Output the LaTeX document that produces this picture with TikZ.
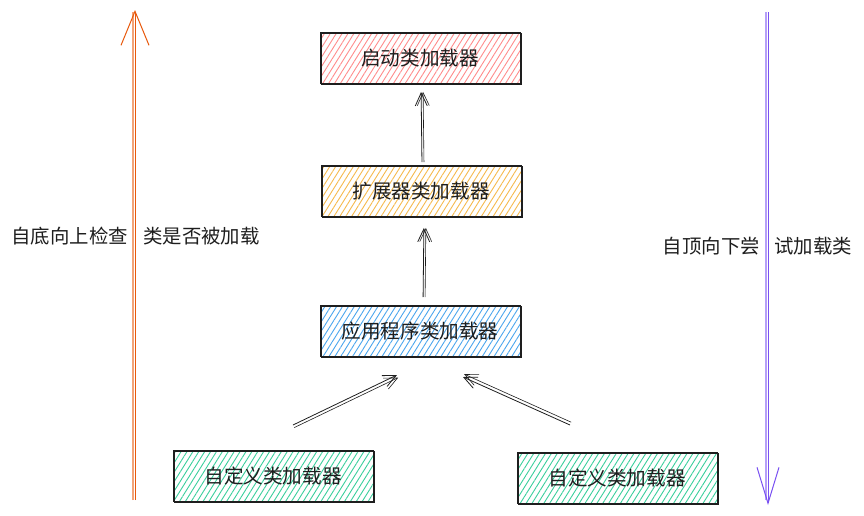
\documentclass[tikz,border=0pt]{standalone}
\usepackage{fontspec}
\newfontfamily\cjk{Noto Sans CJK SC}
\usetikzlibrary{arrows.meta,patterns.meta,calc}
\definecolor{inkc}{HTML}{1E1E1E}
\definecolor{redh}{HTML}{FF8C8C}
\definecolor{yelh}{HTML}{F6BA4E}
\definecolor{bluh}{HTML}{4BA6EE}
\definecolor{grnh}{HTML}{3ACF9C}
\definecolor{orng}{HTML}{E8590C}
\definecolor{purp}{HTML}{7950F2}
\tikzset{
  loader/.style={minimum width=200pt, minimum height=51pt, draw=inkc, line width=0.9pt,
    pattern={Lines[angle=58,distance=5pt,line width=0.9pt]},
    font=\cjk\fontsize{19.6}{23}\selectfont, text=inkc,
    postaction={draw=inkc, line width=0.6pt, transform canvas={xshift=1.3pt,yshift=-1.2pt}}},
  sketcharrow/.style={draw=inkc, line width=0.8pt, -{Straight Barb[length=13pt,width=12pt]},
    postaction={draw=inkc, line width=0.6pt, transform canvas={#1}}},
  lbl/.style={font=\cjk\fontsize{19.4}{23}\selectfont, text=inkc, inner sep=0pt}
}
\begin{document}
\begin{tikzpicture}[x=1pt,y=-1pt]
\useasboundingbox (0,0) rectangle (864,515);
\fill[white] (0,0) rectangle (864,515);

% boxes
\node[loader, pattern color=redh] (boot) at (420,58) {启动类加载器};
\node[loader, pattern color=yelh] (ext) at (421,191) {扩展器类加载器};
\node[loader, pattern color=bluh] (app) at (420,331) {应用程序类加载器};
\node[loader, pattern color=grnh] (cl1) at (273,476) {自定义类加载器};
\node[loader, pattern color=grnh] (cl2) at (617,478) {自定义类加载器};

% vertical connectors
\draw[sketcharrow={xshift=2pt}, shorten <=3pt, shorten >=8pt] ([xshift=1pt]ext.north) -- ([xshift=1pt]boot.south);
\draw[sketcharrow={xshift=2pt}, shorten <=8pt, shorten >=11pt] ([xshift=3pt]app.north) -- ([xshift=3pt]ext.south);

% diagonal connectors
\coordinate (l1) at (293,425);
\coordinate (l2) at (397,375);
\coordinate (r1) at (570,425);
\coordinate (r2) at (463,377);
\draw[sketcharrow={xshift=1.2pt,yshift=-2.6pt}] (l1) -- (l2);
\draw[sketcharrow={xshift=1.2pt,yshift=2.8pt}] (r1) -- (r2);

% long arrows
\coordinate (ob) at (135,500);
\coordinate (ot) at (135,10);
\draw[orng!55, line width=1.6pt] (133,500) -- (133,12);
\draw[orng, line width=1pt, -{Straight Barb[length=34pt,width=28pt]}] (ob) -- (ot);

\coordinate (pt) at (768,12);
\coordinate (pb) at (768,505);
\draw[purp!55, line width=1.5pt] (766,12) -- (766,500);
\draw[purp, line width=1pt, -{Straight Barb[length=36pt,width=22pt]}] (pt) -- (pb);

% labels
\node[lbl, anchor=east] (la) at (128,236) {自底向上检查};
\node[lbl, anchor=west] (lb) at (143,236) {类是否被加载};
\node[lbl, anchor=east] (ra) at (760,246) {自顶向下尝};
\node[lbl, anchor=west] (rb) at (774,246) {试加载类};
\end{tikzpicture}
\end{document}
